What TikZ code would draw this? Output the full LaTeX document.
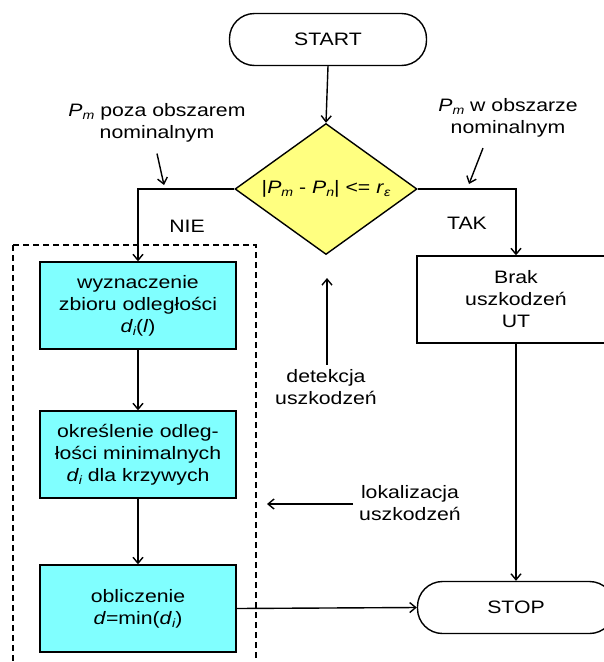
\documentclass[tikz,border=0pt]{standalone}
\usepackage{fontspec}
\setmainfont[FakeStretch=1.18]{Liberation Sans}
\usetikzlibrary{shapes.geometric,arrows.meta}
\definecolor{procfill}{HTML}{80FFFF}
\definecolor{decfill}{HTML}{FFFF80}
% small lowered italic index
\newcommand\low[1]{\raisebox{-0.35ex}{\fontsize{12}{12}\selectfont\itshape #1}}
\begin{document}
\begin{tikzpicture}[x=1pt,y=-1pt,
  txt/.style={font=\fontsize{18}{22}\selectfont, align=center, inner sep=0pt},
  arr/.style={line width=1.4pt,-{Straight Barb[length=6pt,width=10pt,line width=1.4pt]}},
  process/.style={txt,draw,line width=1.4pt,fill=procfill,minimum width=196pt,minimum height=87pt},
  plain/.style={txt,draw,line width=1.4pt,fill=white,minimum width=198pt,minimum height=87pt},
  terminal/.style={txt,draw,line width=1.4pt,fill=white,rounded corners=25pt,minimum width=197pt,minimum height=52pt},
  decision/.style={txt,draw,line width=1.4pt,fill=decfill,diamond,minimum width=182pt,minimum height=131pt},
  group/.style={line width=1.2pt,dash pattern=on 6pt off 4pt}]
\clip (0,0) rectangle (604,662);

% region of the localisation steps
\draw[group] (13,245) rectangle (256,700);

% flowchart nodes
\node[terminal] (start) at (328,39.5) {START};
\node[decision] (dec) at (326,189) {\makebox[0pt]{|\textit{P}\low{m} - \textit{P}\low{n}| <= \textit{r}\low{ε}}};
\node[process] (b1) at (138,305.5) {wyznaczenie\\zbioru odległości\\\textit{d}\low{i}(\textit{l})};
\node[process] (b2) at (138,454.5) {określenie odleg-\\łości minimalnych\\\textit{d}\low{i} dla krzywych};
\node[process] (b3) at (138,608.5) {obliczenie\\\textit{d}=min(\textit{d}\low{i})};
\node[plain] (brak) at (516,299.5) {Brak\\uszkodzeń\\UT};
\node[terminal] (stop) at (516,607.5) {STOP};

% branch labels and annotations
\node[txt] (nie) at (187,226) {NIE};
\node[txt] (tak) at (467,223) {TAK};
\node[txt] (outside) at (157,123) {\textit{P}\low{m} poza obszarem\\nominalnym};
\node[txt] (inside) at (508,117.5) {\textit{P}\low{m} w obszarze\\nominalnym};
\node[txt] (det) at (326,387.5) {detekcja\\uszkodzeń};
\node[txt] (lok) at (410,503) {lokalizacja\\uszkodzeń};

\coordinate (outT) at (164,185);
\coordinate (inT) at (469,184);
\coordinate (detT) at (327,278);
\coordinate (lokT) at (267,504);

% connectors
\draw[arr] (start.south) -- (dec.north);
\draw[arr] (dec.west) -| (b1.north);
\draw[arr] (dec.east) -| (brak.north);
\draw[arr] (b1.south) -- (b2.north);
\draw[arr] (b2.south) -- (b3.north);
\draw[arr] (b3.east) -- (stop.west);
\draw[arr] (brak.south) -- (stop.north);

% annotation pointers
\draw[arr] (outside.south -| 157,0) ++(0,11) -- (outT);
\draw[arr] (inside.south -| 483,0) ++(0,11) -- (inT);
\draw[arr] (det.north -| detT) ++(0,-5) -- (detT);
\draw[arr] (lok.west |- lokT) ++(-6,0) -- (lokT);
\end{tikzpicture}
\end{document}
